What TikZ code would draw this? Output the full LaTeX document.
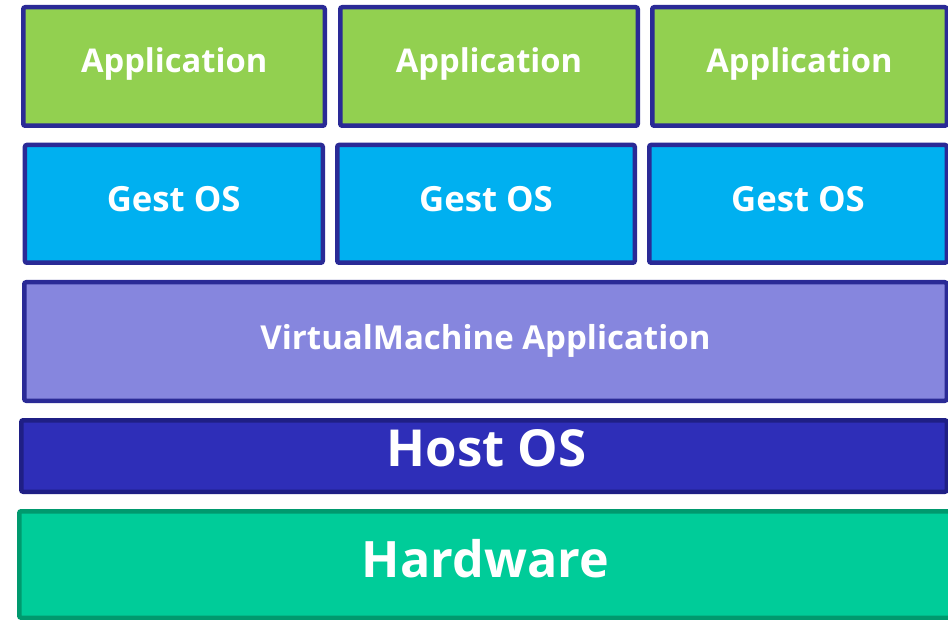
\documentclass[tikz,border=0pt]{standalone}
\usepackage{fontspec}
\setmainfont{Open Sans}[BoldFont={Open Sans Bold}]
\definecolor{appfill}{HTML}{92D050}
\definecolor{osfill}{HTML}{00B0F0}
\definecolor{vmfill}{HTML}{8686DE}
\definecolor{hostfill}{HTML}{2E2EB8}
\definecolor{hwfill}{HTML}{00CC99}
\definecolor{navyline}{HTML}{2A2A96}
\definecolor{hostline}{HTML}{1F1F85}
\definecolor{hwline}{HTML}{00996E}
\begin{document}
\begin{tikzpicture}[x=1pt,y=-1pt,
  layer/.style={draw=navyline,line width=4.5pt,rounded corners=2pt,
    inner sep=0pt,outer sep=0pt},
  label/.style={text=white,font=\bfseries,anchor=base,inner sep=0pt},
  appbox/.style={layer,fill=appfill,minimum width=#1,minimum height=118.5pt},
  osbox/.style={layer,fill=osfill,minimum width=#1,minimum height=117.8pt}]
\useasboundingbox (0,0) rectangle (948,620);
\clip (0,0) rectangle (948,620);
\fill[white] (0,0) rectangle (948,620);

% guest applications
\node[appbox=301.5pt] (app1) at (174,66.5) {};
\node[appbox=297.5pt] (app2) at (489,66.5) {};
\node[appbox=294.5pt] (app3) at (799.5,66.5) {};

% guest operating systems
\node[osbox=297.8pt] (os1) at (173.85,203.85) {};
\node[osbox=297.5pt] (os2) at (486,203.85) {};
\node[osbox=297.5pt] (os3) at (798,203.85) {};

% virtualisation layer, host and hardware
\node[layer,fill=vmfill,minimum width=922.5pt,minimum height=118.5pt] (vm) at (485.5,341.5) {};
\node[layer,draw=hostline,fill=hostfill,minimum width=925.5pt,minimum height=71.5pt] (host) at (484,456) {};
\node[layer,draw=hwline,fill=hwfill,minimum width=933.5pt,minimum height=106.5pt] (hw) at (486,564.5) {};

% labels
\foreach \n/\x in {app1/174.2,app2/489,app3/799.5}
  \node[label,font=\fontsize{32.7}{36}\bfseries] (\n t) at (\x,72.3) {Application};
\foreach \n/\x in {os1/173.7,os2/486,os3/798}
  \node[label,font=\fontsize{34.7}{38}\bfseries] (\n t) at (\x,212) {Gest OS};
\node[label,font=\fontsize{33}{37}\bfseries] (vmt) at (485.5,350) {VirtualMachine Application};
\node[label,font=\fontsize{51}{56}\bfseries] (hostt) at (486.6,466.7) {Host OS};
\node[label,font=\fontsize{50.2}{55}\bfseries] (hwt) at (485.5,577) {Hardware};
\end{tikzpicture}
\end{document}
